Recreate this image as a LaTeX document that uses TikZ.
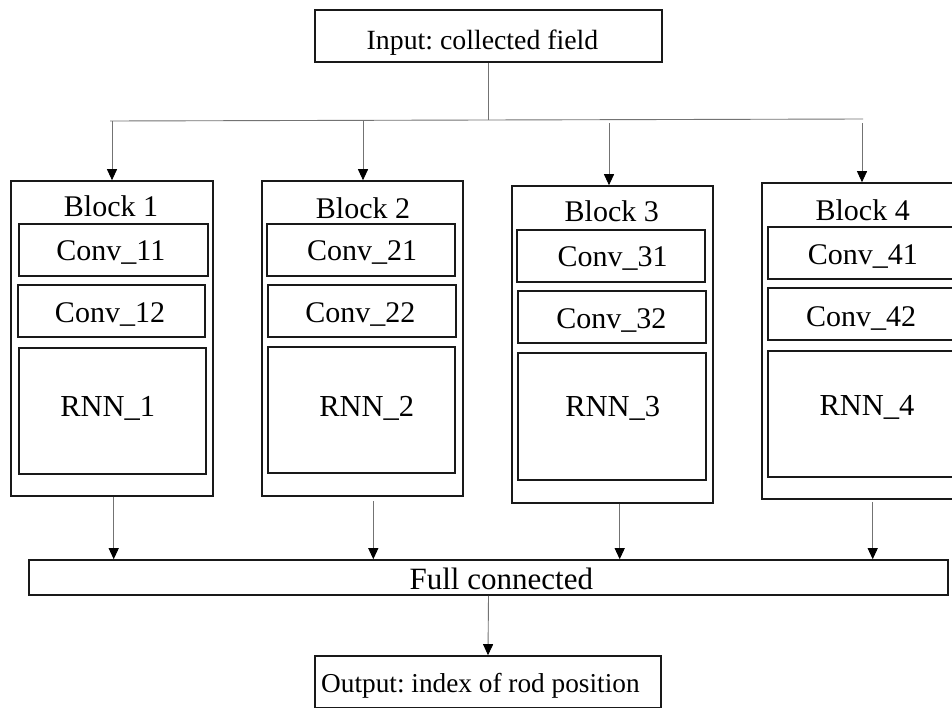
\documentclass[tikz,border=0pt]{standalone}
\usepackage{fontspec}
\setmainfont{Liberation Serif}
\usetikzlibrary{arrows.meta,fit}
\frenchspacing
\begin{document}
\begin{tikzpicture}[x=1pt,y=-1pt,
  box/.style={draw=black!90, line width=1.6pt, inner sep=0pt},
  ln/.style={draw=black!55, line width=0.9pt},
  arr/.style={ln, -{Triangle[width=10pt,length=11pt,color=black]}},
  lab/.style={anchor=base, inner sep=0pt, font=\fontsize{30}{36}\selectfont}]
\clip (0,0) rectangle (952,709);
\fill[white] (0,0) rectangle (952,709);
% input / output / full connected
\node[box, fit={(315,10) (662,62)}] (in) {};
\node[lab, font=\fontsize{27.8}{32}\selectfont] (intext) at (482.5,50) {Input: collected field};
\node[box, fit={(29,560) (948,595)}] (fc) {};
\node[lab, font=\fontsize{31}{36}\selectfont] (fctext) at (501.3,589) {Full connected};
\node[box, fit={(315,656) (661,707.5)}] (out) {};
\node[lab, font=\fontsize{27.3}{32}\selectfont] (outtext) at (480.4,692) {Output: index of rod position};
% blocks
\node[box, fit={(11,181) (213,496)}] (b1) {};
\node[box, fit={(262,181) (463,496)}] (b2) {};
\node[box, fit={(512,186) (713,503)}] (b3) {};
\node[box, fit={(762,183) (968,499)}] (b4) {};
\node[lab] (b1t) at (111,216.7) {Block 1};
\node[lab] (b2t) at (363,218.3) {Block 2};
\node[lab] (b3t) at (611.8,221.7) {Block 3};
\node[lab] (b4t) at (862.7,220) {Block 4};
% inner boxes
\node[box, fit={(19,224) (208,276)}] (c11) {};
\node[box, fit={(18,285) (205,337)}] (c12) {};
\node[box, fit={(19,348) (206,474)}] (r1) {};
\node[box, fit={(267,224) (455,276)}] (c21) {};
\node[box, fit={(268,285) (456,337)}] (c22) {};
\node[box, fit={(268,347) (455,473)}] (r2) {};
\node[box, fit={(517,230) (705,282)}] (c31) {};
\node[box, fit={(518,291) (706,343)}] (c32) {};
\node[box, fit={(518,353) (706,480)}] (r3) {};
\node[box, fit={(768,227) (964,279)}] (c41) {};
\node[box, fit={(768,288) (964,340)}] (c42) {};
\node[box, fit={(768,351) (964,477)}] (r4) {};
\node[lab] (c11t) at (110.8,260.7) {Conv\_11};
\node[lab] (c12t) at (110,322.7) {Conv\_12};
\node[lab] (c21t) at (362,260.7) {Conv\_21};
\node[lab] (c22t) at (360.3,322.7) {Conv\_22};
\node[lab] (c31t) at (612.5,266.7) {Conv\_31};
\node[lab] (c32t) at (611.3,328.3) {Conv\_32};
\node[lab] (c41t) at (862.8,264.3) {Conv\_41};
\node[lab] (c42t) at (861,326.7) {Conv\_42};
\node[lab, font=\fontsize{30.5}{36}\selectfont] (r1t) at (107.7,416) {RNN\_1};
\node[lab, font=\fontsize{30.5}{36}\selectfont] (r2t) at (366.7,416) {RNN\_2};
\node[lab, font=\fontsize{30.5}{36}\selectfont] (r3t) at (612.8,416) {RNN\_3};
\node[lab, font=\fontsize{30.5}{36}\selectfont] (r4t) at (867,415) {RNN\_4};
% distribution lines
\coordinate (hl) at (110,121);
\coordinate (hr) at (863,119);
\coordinate (hm) at (488.5,120);
\draw[ln] (in.south) -- (hm);
\draw[ln] (hl) -- (hr);
\coordinate (t1) at (112,121);
\coordinate (t2) at (363,120.5);
\coordinate (t3) at (609,123);
\coordinate (t4) at (862,123);
\draw[arr] (t1) -- (t1 |- b1.north);
\draw[arr] (t2) -- (t2 |- b2.north);
\draw[arr] (t3) -- (t3 |- b3.north);
\draw[arr] (t4) -- (t4 |- b4.north);
% to full connected
\coordinate (d1) at (113.7,497);
\coordinate (d2) at (373.3,501);
\coordinate (d3) at (619.7,503.5);
\coordinate (d4) at (872.7,502);
\draw[arr] (d1) -- (d1 |- fc.north);
\draw[arr] (d2) -- (d2 |- fc.north);
\draw[arr] (d3) -- (d3 |- fc.north);
\draw[arr] (d4) -- (d4 |- fc.north);
\draw[arr] (fc.south) -- (out.north);
\end{tikzpicture}
\end{document}
